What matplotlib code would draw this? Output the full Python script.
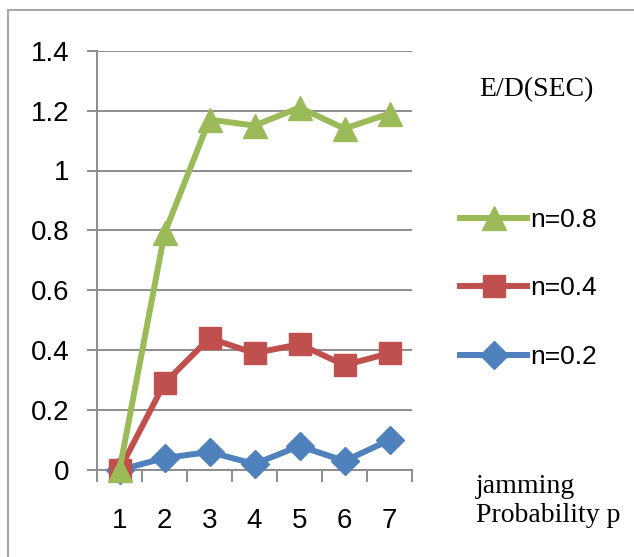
import matplotlib
matplotlib.use('Agg')
import matplotlib.pyplot as plt
import numpy as np
from matplotlib.patches import Rectangle

# data
probability = [1, 2, 3, 4, 5, 6, 7]
n08 = [0.0, 0.79, 1.17, 1.15, 1.21, 1.14, 1.19]
n04 = [0.0, 0.29, 0.44, 0.39, 0.42, 0.35, 0.39]
n02 = [0.0, 0.04, 0.06, 0.02, 0.08, 0.03, 0.10]
y_ticks = [0, 0.2, 0.4, 0.6, 0.8, 1.0, 1.2, 1.4]
y_tick_labels = ['0', '0.2', '0.4', '0.6', '0.8', '1', '1.2', '1.4']

green = '#9BBB59'
red = '#C0504D'
blue = '#4F81BD'
grid_col = '#8c8c8c'

W, H = 634, 557
fig = plt.figure(figsize=(W / 100, H / 100), dpi=100)
ax = fig.add_axes([97 / W, 1 - 470 / H, 315 / W, (470 - 50.7) / H])

tick_font = ['Liberation Sans Narrow', 'Liberation Sans', 'DejaVu Sans']
serif_font = ['Liberation Serif', 'DejaVu Serif']

l2, = ax.plot(probability, n02, color=blue, lw=4.3, marker='D', ms=14,
              label='n=0.2', clip_on=False, zorder=3)
l4, = ax.plot(probability, n04, color=red, lw=4.3, marker='s', ms=16,
              label='n=0.4', clip_on=False, zorder=4)
l8, = ax.plot(probability, n08, color=green, lw=4.3, marker='^', ms=17,
              label='n=0.8', clip_on=False, zorder=5)

ax.set_xlim(0.5, 7.5)
ax.set_ylim(0, 1.4)

ax.set_yticks(y_ticks)
ax.set_yticklabels(y_tick_labels, family=tick_font, fontsize=20)
ax.yaxis.grid(True, color=grid_col, lw=1.4)
ax.set_axisbelow(True)
ax.tick_params(axis='y', direction='out', length=7, width=1.4,
               color=grid_col, pad=13)

ax.set_xticks(probability)
ax.set_xticklabels([str(p) for p in probability], family=tick_font, fontsize=20)
ax.set_xticks(np.arange(0.5, 8, 1), minor=True)
ax.tick_params(axis='x', which='major', length=0, pad=27)
ax.tick_params(axis='x', which='minor', direction='out', length=8.5,
               width=1.4, color=grid_col)

for side in ['top', 'right']:
    ax.spines[side].set_visible(False)
for side in ['left', 'bottom']:
    ax.spines[side].set_color(grid_col)
    ax.spines[side].set_linewidth(1.4)

leg = ax.legend(handles=[l8, l4, l2], loc='center left',
                bbox_to_anchor=(460 / W, 1 - 288.5 / H),
                bbox_transform=fig.transFigure, frameon=False,
                borderpad=0, borderaxespad=0, handlelength=2.55,
                handletextpad=0.1, labelspacing=1.68, numpoints=1,
                prop={'family': 'Liberation Sans', 'size': 19})

fig.text(536 / W, 1 - 90 / H, 'E/D(SEC)', family=serif_font, fontsize=20,
         ha='center', va='center')
fig.text(476 / W, 1 - 501 / H, 'jamming\nProbability p', family=serif_font,
         fontsize=20, ha='left', va='center', linespacing=1.2)

fig.patches.append(Rectangle((8 / W, -0.1), 1.2, 1.1 - 10 / H,
                             transform=fig.transFigure, fill=False,
                             edgecolor='#a6a6a6', lw=1.5))

fig.savefig('out.png', dpi=100)
